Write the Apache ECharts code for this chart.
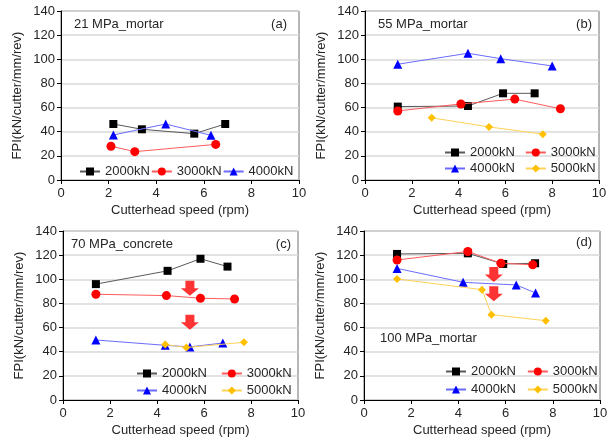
<!DOCTYPE html>
<html>
<head>
<meta charset="utf-8">
<script src="https://cdn.jsdelivr.net/npm/echarts@6/dist/echarts.min.js"></script>
<style>
  html, body { margin: 0; padding: 0; background: #fff; }
  #chart { width: 615px; height: 445px; }
</style>
</head>
<body>
<div id="chart"></div>
<script>
// Panel (a): 21 MPa mortar — [cutterhead speed (rpm), FPI]
const mortar21_2000 = [[2.2, 46.4], [3.4, 42], [5.6, 38.4], [6.9, 46.4]];
const mortar21_3000 = [[2.1, 28], [3.1, 23.5], [6.5, 29.5]];
const mortar21_4000 = [[2.2, 37.3], [4.4, 46.4], [6.3, 37]];

// Panel (b): 55 MPa mortar
const mortar55_2000 = [[1.4, 60.8], [4.4, 61.3], [5.9, 71.8], [7.25, 71.8]];
const mortar55_3000 = [[1.4, 57.2], [4.1, 63], [6.4, 67], [8.35, 59]];
const mortar55_4000 = [[1.4, 95.9], [4.4, 105], [5.8, 100.5], [8.0, 94.5]];
const mortar55_5000 = [[2.85, 51.5], [5.3, 44], [7.6, 38]];

// Panel (c): 70 MPa concrete
const concrete70_2000 = [[1.4, 96], [4.45, 107], [5.85, 117], [7.0, 110.5]];
const concrete70_3000 = [[1.4, 87.6], [4.4, 86.5], [5.85, 84.3], [7.3, 83.7]];
const concrete70_4000 = [[1.4, 49.7], [4.35, 45.3], [5.4, 44], [6.8, 47.2]];
const concrete70_5000 = [[4.35, 46], [5.25, 43.5], [7.7, 47.8]];
const concrete70_arrows = [[5.4, 92.5], [5.4, 64.4]];

// Panel (d): 100 MPa mortar
const mortar100_2000 = [[1.4, 121], [4.4, 121.5], [5.9, 112.7], [7.25, 113.3]];
const mortar100_3000 = [[1.4, 116], [4.4, 123], [5.8, 113.3], [7.15, 112]];
const mortar100_4000 = [[1.4, 109], [4.2, 97.5], [6.45, 95.3], [7.27, 88.7]];
const mortar100_5000 = [[1.4, 100.3], [5.0, 91.4], [5.4, 70.7], [7.7, 65.7]];
const mortar100_arrows = [[5.5, 104], [5.5, 88]];

const thrustNames = ['2000kN', '3000kN', '4000kN', '5000kN'];
const panelTitles = ['21 MPa_mortar', '55 MPa_mortar', '70 MPa_concrete', '100 MPa_mortar'];
const panelTags = ['(a)', '(b)', '(c)', '(d)'];
const xTitle = 'Cutterhead speed (rpm)';
const yTitle = 'FPI(kN/cutter/mm/rev)';

const FONT = 'Liberation Sans, Arial, sans-serif';
const TEXT = '#262626';

const styles = {
  '2000kN': { symbol: 'rect', size: 8, color: '#000000', line: '#595959' },
  '3000kN': { symbol: 'circle', size: 9, color: '#ff0000', line: '#ff5b5b' },
  '4000kN': { symbol: 'triangle', size: 9, color: '#0000ff', line: '#6b6bff' },
  '5000kN': { symbol: 'diamond', size: 8, color: '#ffc000', line: '#ffd257' }
};

const panels = [
  { grid: { left: 61, top: 11, width: 238, height: 169 },
    series: [mortar21_2000, mortar21_3000, mortar21_4000], arrows: null },
  { grid: { left: 365, top: 11, width: 234, height: 169 },
    series: [mortar55_2000, mortar55_3000, mortar55_4000, mortar55_5000], arrows: null },
  { grid: { left: 63, top: 231, width: 235, height: 169 },
    series: [concrete70_2000, concrete70_3000, concrete70_4000, concrete70_5000], arrows: concrete70_arrows },
  { grid: { left: 364, top: 231, width: 236, height: 169 },
    series: [mortar100_2000, mortar100_3000, mortar100_4000, mortar100_5000], arrows: mortar100_arrows }
];

const grids = [], xAxes = [], yAxes = [], series = [];
const axisLabel = { fontFamily: FONT, fontSize: 13, color: TEXT };

panels.forEach((p, i) => {
  grids.push(Object.assign({ show: true, borderColor: '#6e6e6e', borderWidth: 1, backgroundColor: 'transparent' }, p.grid));
  xAxes.push({
    type: 'value', gridIndex: i, min: 0, max: 10, interval: 2,
    name: xTitle, nameLocation: 'middle', nameGap: 24,
    nameTextStyle: { fontFamily: FONT, fontSize: 13, color: TEXT },
    axisLine: { show: true, lineStyle: { color: '#000', width: 1 } },
    axisTick: { show: true, length: 4, inside: false, lineStyle: { color: '#000' } },
    axisLabel: Object.assign({ margin: 7 }, axisLabel),
    splitLine: { show: false }
  });
  yAxes.push({
    type: 'value', gridIndex: i, min: 0, max: 140, interval: 20,
    name: yTitle, nameLocation: 'middle', nameGap: 37,
    nameTextStyle: { fontFamily: FONT, fontSize: 13, color: TEXT },
    axisLine: { show: true, lineStyle: { color: '#000', width: 1 } },
    axisTick: { show: true, length: 4, inside: false, lineStyle: { color: '#000' } },
    axisLabel: Object.assign({ margin: 6 }, axisLabel),
    splitLine: { show: true, lineStyle: { color: '#d9d9d9', width: 1.5 } }
  });
  p.series.forEach((data, k) => {
    const name = thrustNames[k];
    const s = styles[name];
    series.push({
      type: 'line', name: name, xAxisIndex: i, yAxisIndex: i, data: data,
      symbol: s.symbol, symbolSize: s.size, showAllSymbol: true,
      itemStyle: { color: s.color },
      lineStyle: { color: s.line, width: 1 },
      emphasis: { disabled: true }, animation: false, z: 3 + k
    });
  });
  if (p.arrows) {
    series.push({
      type: 'scatter', name: 'shift', xAxisIndex: i, yAxisIndex: i, data: p.arrows,
      symbol: 'path://M3,0 L9,0 L9,5 L12,5 L6,10 L0,5 L3,5 Z',
      symbolSize: [18, 15],
      itemStyle: { color: '#ff0000' },
      emphasis: { disabled: true }, animation: false, z: 10
    });
  }
});

const legendBase = {
  orient: 'horizontal', itemWidth: 20, itemHeight: 10, selectedMode: false,
  textStyle: { fontFamily: FONT, fontSize: 13, color: TEXT },
  padding: 0
};
function legendRow(left, top, names, gap) {
  return Object.assign({}, legendBase, { left: left, top: top, data: names, itemGap: gap });
}

const legends = [
  legendRow(79, 165, ['2000kN', '3000kN', '4000kN'], 1),
  legendRow(444, 146, ['2000kN', '3000kN'], 10),
  legendRow(444, 162, ['4000kN', '5000kN'], 10),
  legendRow(136, 367, ['2000kN', '3000kN'], 14),
  legendRow(136, 384, ['4000kN', '5000kN'], 14),
  legendRow(445, 365, ['2000kN', '3000kN'], 11),
  legendRow(445, 383, ['4000kN', '5000kN'], 11)
];

function label(x, y, text, align) {
  return {
    type: 'text', x: x, y: y,
    style: { text: text, fontFamily: FONT, fontSize: 13, fill: TEXT, align: align || 'left', verticalAlign: 'middle' }
  };
}

const graphics = [
  label(74, 24, panelTitles[0]),
  label(287, 24, panelTags[0], 'right'),
  label(378, 24, panelTitles[1]),
  label(592, 24, panelTags[1], 'right'),
  label(71, 244, panelTitles[2]),
  label(291, 244, panelTags[2], 'right'),
  label(380, 338, panelTitles[3]),
  label(592, 242, panelTags[3], 'right')
];

const chart = echarts.init(document.getElementById('chart'), null, { renderer: 'canvas' });
chart.setOption({
  animation: false,
  backgroundColor: '#ffffff',
  grid: grids,
  xAxis: xAxes,
  yAxis: yAxes,
  legend: legends,
  graphic: graphics,
  series: series
});
</script>
</body>
</html>
